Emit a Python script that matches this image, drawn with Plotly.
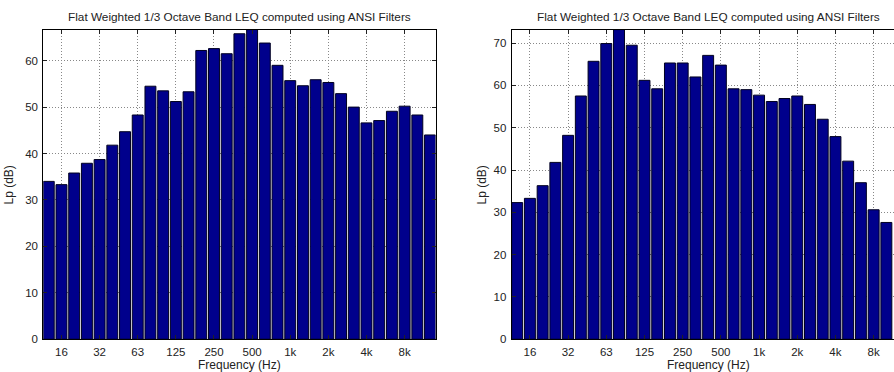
import plotly.graph_objects as go

bands = ["12.5", "16", "20", "25", "31.5", "40", "50", "63", "80", "100", "125", "160",
         "200", "250", "315", "400", "500", "630", "800", "1k", "1.25k", "1.6k", "2k",
         "2.5k", "3.15k", "4k", "5k", "6.3k", "8k", "10k", "12.5k"]
tick_bands = ["16", "31.5", "63", "125", "250", "500", "1k", "2k", "4k", "8k"]
tick_labels = ["16", "32", "63", "125", "250", "500", "1k", "2k", "4k", "8k"]

left_lp = [34.0, 33.3, 35.8, 37.9, 38.7, 41.8, 44.7, 48.3, 54.5, 53.5, 51.2, 53.3,
           62.2, 62.6, 61.5, 65.8, 66.7, 63.8, 59.0, 55.7, 54.6, 55.9, 55.3, 52.9,
           50.0, 46.6, 47.1, 49.1, 50.2, 48.3, 44.0]
right_lp = [32.3, 33.3, 36.3, 41.8, 48.2, 57.5, 65.7, 69.9, 73.2, 69.5, 61.2, 59.2,
            65.3, 65.3, 62.0, 67.1, 64.8, 59.2, 59.0, 57.7, 56.2, 56.9, 57.5, 55.5,
            52.0, 47.9, 42.1, 37.0, 30.6, 27.6]

title_text = "Flat Weighted 1/3 Octave Band LEQ computed using ANSI Filters"
W, H = 894, 379
REF_H = 372.0
FONT = "Liberation Sans, Arial, Helvetica, sans-serif"
BAR = "#00008C"
TXT = "#222"

pos_all = list(range(1, len(bands) + 1))
tick_pos = [pos_all[bands.index(t)] for t in tick_bands]

fig = go.Figure()
fig.add_trace(go.Bar(x=pos_all[:len(left_lp)], y=left_lp, width=0.86,
                     marker=dict(color=BAR, line=dict(color="#000020", width=1)),
                     xaxis="x", yaxis="y", showlegend=False, hoverinfo="skip"))
fig.add_trace(go.Bar(x=pos_all[:len(right_lp)], y=right_lp, width=0.86,
                     marker=dict(color=BAR, line=dict(color="#000020", width=1)),
                     xaxis="x2", yaxis="y2", showlegend=False, hoverinfo="skip"))

y_top = 29.5
y_bot = 338.3
ydom = [1 - y_bot / REF_H, 1 - y_top / REF_H]
lx0, lx1 = 43.3, 435.5
rx0 = 511.7

common_x = dict(tickmode="array", tickvals=tick_pos, ticktext=tick_labels,
                showgrid=True, gridcolor="#888", griddash="1px,2px", gridwidth=1,
                showline=True, linecolor="black", linewidth=1,
                ticks="inside", ticklen=4, tickcolor="#222",
                tickfont=dict(family=FONT, size=11.5, color=TXT),
                zeroline=False, fixedrange=True, ticklabelstandoff=2)
common_y = dict(tickmode="linear", tick0=0, dtick=10,
                showgrid=True, gridcolor="#888", griddash="1px,2px", gridwidth=1,
                showline=True, linecolor="black", linewidth=1,
                ticks="inside", ticklen=4, tickcolor="#222",
                tickfont=dict(family=FONT, size=11.5, color=TXT),
                zeroline=False, fixedrange=True, ticklabelstandoff=2)

fig.update_layout(
    width=W, height=H,
    margin=dict(l=0, r=0, t=0, b=0),
    paper_bgcolor="white", plot_bgcolor="white",
    bargap=0,
    xaxis=dict(common_x, domain=[lx0 / W, lx1 / W], range=[0.57, 31.43], mirror="ticks", anchor="y"),
    yaxis=dict(common_y, domain=ydom, range=[0, 66.7], mirror="ticks", anchor="x"),
    xaxis2=dict(common_x, domain=[rx0 / W, 1.0], range=[0.57, 30.6], mirror="ticks", anchor="y2"),
    yaxis2=dict(common_y, domain=ydom, range=[0, 73.2], mirror=False, anchor="x2"),
)

ann = []
for cx in [(lx0 + lx1) / 2, 708]:
    ann.append(dict(text=title_text, x=cx / W, y=1 - 17 / REF_H, xref="paper", yref="paper",
                    xanchor="center", yanchor="middle", showarrow=False,
                    font=dict(family=FONT, size=11.8, color=TXT)))
    ann.append(dict(text="Frequency (Hz)", x=(cx) / W, y=1 - 364 / REF_H, xref="paper", yref="paper",
                    xanchor="center", yanchor="middle", showarrow=False,
                    font=dict(family=FONT, size=12, color=TXT)))
for lx in [9, 482]:
    ann.append(dict(text="Lp (dB)", x=lx / W, y=1 - 185 / REF_H, xref="paper", yref="paper",
                    xanchor="center", yanchor="middle", showarrow=False, textangle=-90,
                    font=dict(family=FONT, size=12, color=TXT)))
fig.update_layout(annotations=ann)

post = """
var de = document.documentElement, b = document.body;
de.style.margin = '0'; de.style.padding = '0'; de.style.overflow = 'hidden';
b.style.margin = '0'; b.style.padding = '0'; b.style.overflow = 'hidden';
"""
fig.write_html("out.html", config={"displayModeBar": False, "staticPlot": True}, post_script=post)
